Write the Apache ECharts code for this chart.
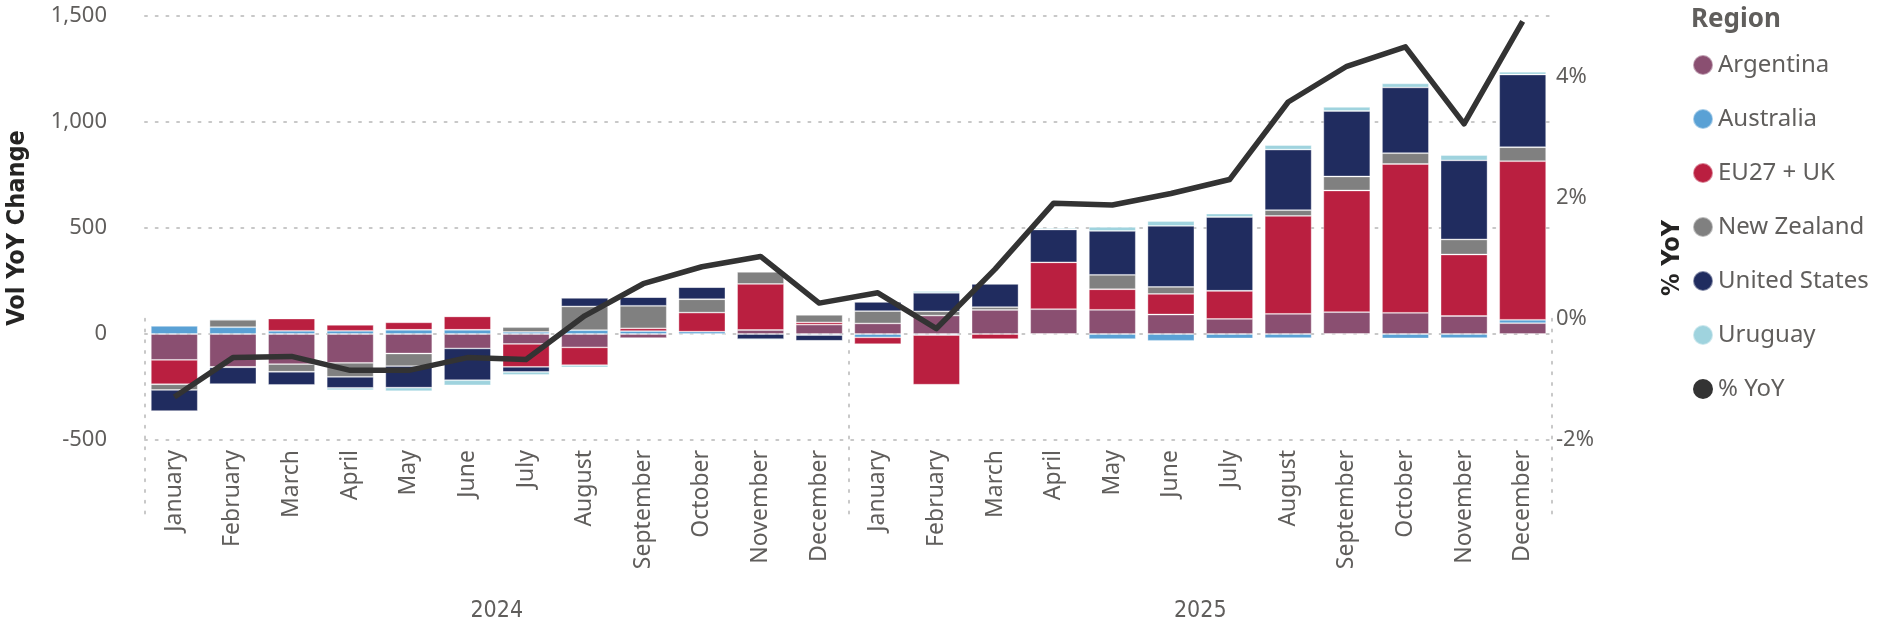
<!DOCTYPE html>
<html>
<head>
<meta charset="utf-8">
<script src="https://cdn.jsdelivr.net/npm/echarts@6/dist/echarts.min.js"></script>
<style>
  html, body { margin: 0; padding: 0; background: #fff; }
  #chart { width: 1883px; height: 635px; }
</style>
</head>
<body>
<div id="chart"></div>
<script>
// categories
const months = ["January", "February", "March", "April", "May", "June", "July",
  "August", "September", "October", "November", "December"];
const years = ["2024", "2025"];
const categories = years.flatMap(y => months.map(m => m + " " + y));

// volume change by region (Jan 2024 .. Dec 2025)
const argentina = [-122, -155, -142, -136, -92, -68, -47, -63, -19, -3, 19, 44,
  50, 87, 114, 117, 114, 92, 71, 95, 103, 100, 85, 51];
const australia = [38, 32, 15, 15, 20, 20, 10, 18, 14, 11, 0, -5,
  -16, -5, 0, -2, -24, -32, -21, -19, -2, -21, -19, 16];
const eu27uk = [-115, -2, 58, 28, 35, 63, -108, -84, 13, 90, 217, 11,
  -32, -234, -24, 221, 97, 97, 133, 462, 574, 702, 290, 748];
const newZealand = [-27, 35, -36, -66, -60, 0, 22, 112, 106, 63, 57, 35,
  58, 20, 13, 0, 68, 33, 0, 27, 66, 51, 71, 66];
const unitedStates = [-100, -79, -62, -52, -101, -150, -24, 40, 41, 57, -24, -27,
  44, 87, 110, 155, 207, 288, 348, 286, 309, 310, 373, 343];
const uruguay = [-2, 4, 4, -11, -17, -24, -14, -10, 0, 0, -5, 0,
  0, 8, 0, 6, 19, 22, 16, 21, 19, 19, 25, 13];

// % YoY line
const yoy = [-1.29, -0.64, -0.62, -0.85, -0.85, -0.64, -0.67, 0.05, 0.58, 0.86, 1.03, 0.26,
  0.43, -0.16, 0.82, 1.91, 1.88, 2.07, 2.30, 3.58, 4.17, 4.49, 3.22, 4.91];

const regions = [
  { name: "Argentina", data: argentina, color: "#8A4F71" },
  { name: "Australia", data: australia, color: "#5AA1D5" },
  { name: "EU27 + UK", data: eu27uk, color: "#BA1F40" },
  { name: "New Zealand", data: newZealand, color: "#808080" },
  { name: "United States", data: unitedStates, color: "#202C5F" },
  { name: "Uruguay", data: uruguay, color: "#9FD3DE" }
];

const labelFont = "'Noto Sans', 'Open Sans', sans-serif";
const narrowFont = "'Liberation Sans Narrow', 'DejaVu Sans Condensed', 'Roboto', sans-serif";
const dotted = { color: "#c8c8c8", width: 2, type: [2, 8.7], cap: "round" };

let myChart = echarts.init(document.getElementById("chart"));

let series = regions.map(r => ({
  name: r.name,
  type: "bar",
  stack: "vol",
  barCategoryGap: "20%",
  data: r.data,
  itemStyle: { color: r.color, borderColor: "rgba(255,255,255,0.45)", borderWidth: 0.8 },
  emphasis: { disabled: true }
}));

series.push({
  name: "% YoY",
  type: "line",
  yAxisIndex: 1,
  data: yoy,
  symbol: "none",
  z: 10,
  lineStyle: { color: "#333333", width: 5.5, join: "round" },
  itemStyle: { color: "#333333" }
});

let option = {
  animation: false,
  backgroundColor: "#fff",
  title: {
    text: "Region",
    left: 1686,
    top: 2,
    textStyle: { fontFamily: labelFont, fontSize: 26, fontWeight: "bold", color: "#605E5C" }
  },
  legend: {
    orient: "vertical",
    left: 1687,
    top: 48,
    icon: "circle",
    itemWidth: 20,
    itemHeight: 20,
    itemGap: 30,
    data: regions.map(r => r.name).concat(["% YoY"]),
    textStyle: { fontFamily: labelFont, fontSize: 24, color: "#605E5C", lineHeight: 24 }
  },
  grid: { left: 145, right: 331, top: 16, bottom: 195, outerBoundsMode: "none" },
  xAxis: [
    {
      type: "category",
      data: categories,
      axisLine: { show: false },
      axisTick: { show: false },
      axisLabel: {
        rotate: 90,
        margin: 10,
        interval: 0,
        fontFamily: labelFont,
        fontSize: 23,
        color: "#605E5C",
        formatter: v => v.split(" ")[0]
      }
    },
    {
      type: "category",
      data: years,
      position: "bottom",
      axisLine: { show: false },
      axisTick: { show: true, length: 195, lineStyle: dotted },
      axisLabel: {
        margin: 160,
        fontFamily: narrowFont,
        fontSize: 23,
        color: "#605E5C"
      }
    }
  ],
  yAxis: [
    {
      type: "value",
      min: -500,
      max: 1500,
      interval: 500,
      name: "Vol YoY Change",
      nameLocation: "middle",
      nameGap: 115,
      nameTextStyle: { fontFamily: narrowFont, fontSize: 25, fontWeight: "bold", color: "#252423" },
      axisLine: { show: false },
      axisTick: { show: false },
      splitLine: { lineStyle: dotted },
      axisLabel: {
        margin: 38,
        fontFamily: labelFont,
        fontSize: 22,
        color: "#605E5C",
        formatter: v => v.toLocaleString("en-US")
      }
    },
    {
      type: "value",
      min: -2,
      max: 5,
      interval: 2,
      position: "right",
      name: "% YoY",
      nameLocation: "middle",
      nameRotate: 90,
      nameGap: 108,
      nameTextStyle: { fontFamily: narrowFont, fontSize: 25, fontWeight: "bold", color: "#252423", padding: [0, 60, 0, 0] },
      axisLine: { show: false },
      axisTick: { show: false },
      splitLine: { show: false },
      axisLabel: {
        margin: 4,
        showMaxLabel: false,
        fontFamily: labelFont,
        fontSize: 22,
        color: "#605E5C",
        formatter: v => v + "%"
      }
    }
  ],
  series: series
};

myChart.setOption(option);
</script>
</body>
</html>
